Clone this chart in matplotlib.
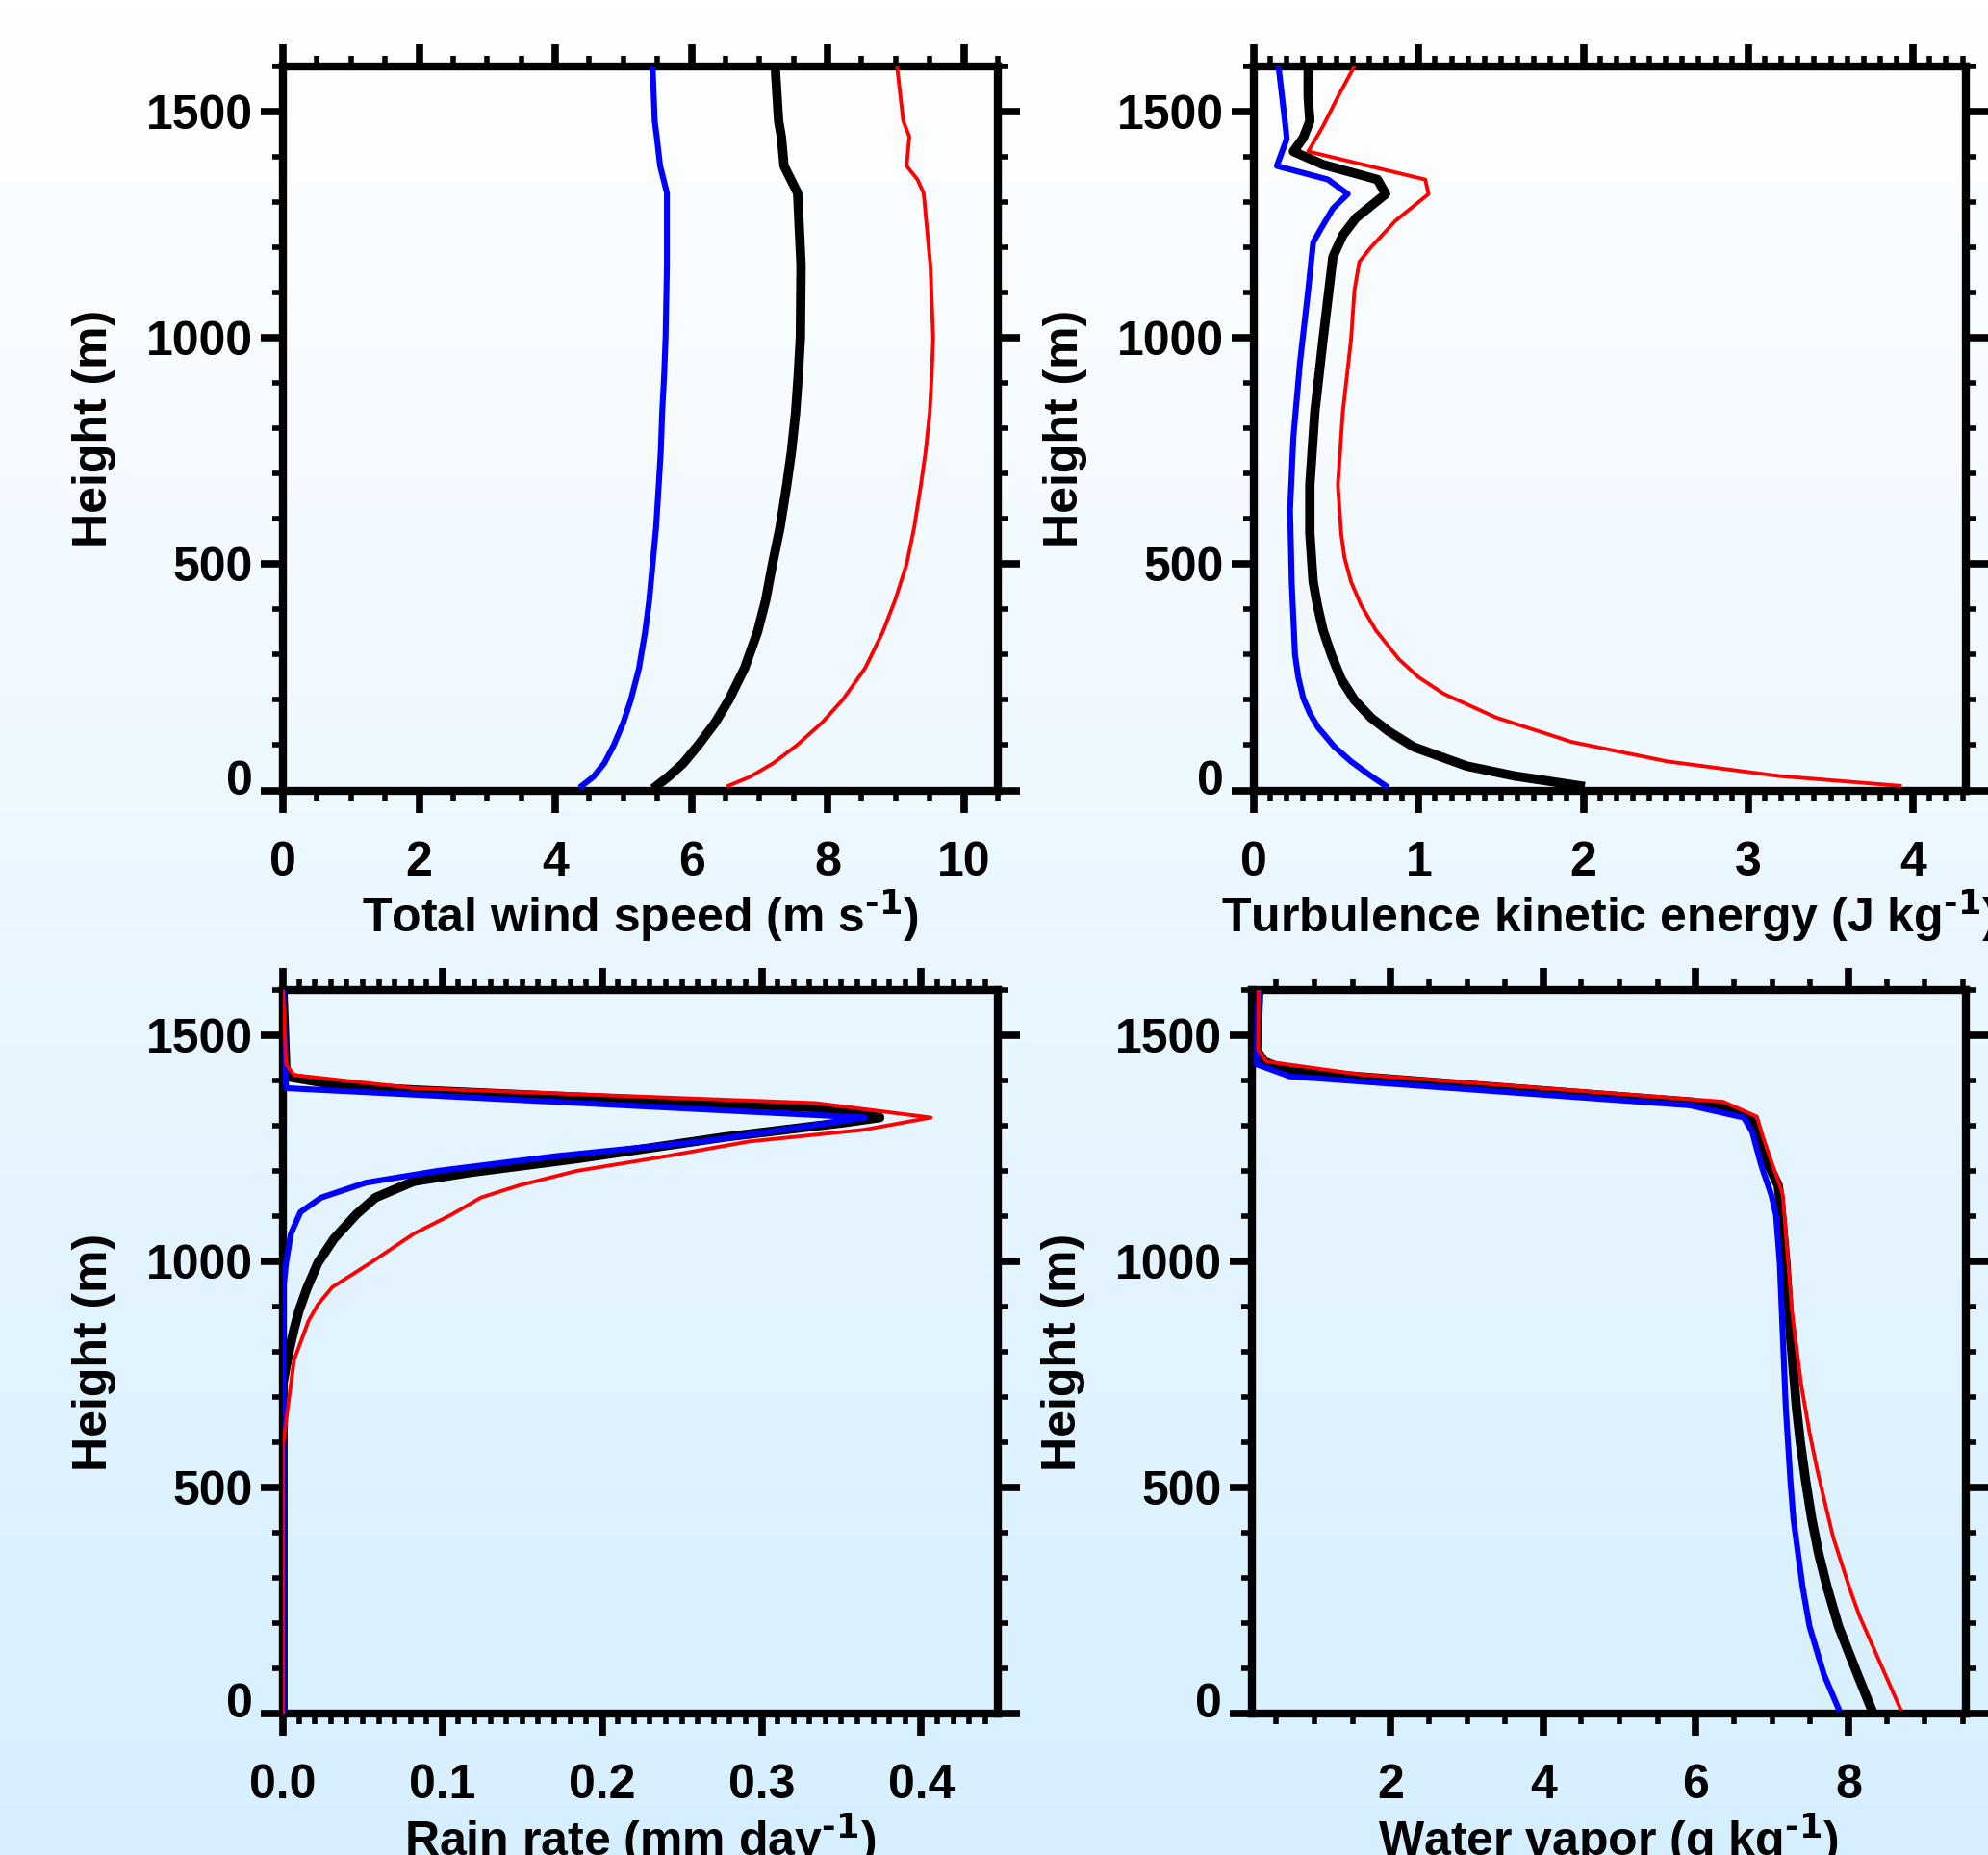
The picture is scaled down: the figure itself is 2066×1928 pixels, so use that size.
import numpy as np
import matplotlib
matplotlib.use('Agg')
import matplotlib.pyplot as plt
from matplotlib.ticker import MultipleLocator, FixedLocator
from matplotlib.colors import LinearSegmentedColormap
from matplotlib.transforms import ScaledTranslation

plt.rcParams['font.family'] = ['Liberation Sans', 'DejaVu Sans']
plt.rcParams['font.weight'] = 'bold'
plt.rcParams['axes.labelweight'] = 'bold'
plt.rcParams['font.size'] = 36
plt.rcParams['mathtext.default'] = 'regular'

# --- total wind speed (m/s)
h_wind = [10, 30, 60, 100, 150, 200, 270, 350, 420, 500, 580, 675, 750, 835, 920, 1000, 1160, 1320, 1350, 1380, 1445, 1480, 1600]
wind_blue = [4.39, 4.56, 4.72, 4.86, 5.00, 5.11, 5.23, 5.32, 5.38, 5.43, 5.48, 5.52, 5.55, 5.57, 5.60, 5.62, 5.64, 5.64, 5.59, 5.54, 5.49, 5.46, 5.43]
wind_black = [5.49, 5.66, 5.88, 6.10, 6.35, 6.55, 6.78, 6.97, 7.09, 7.19, 7.30, 7.40, 7.47, 7.53, 7.57, 7.60, 7.61, 7.56, 7.46, 7.36, 7.32, 7.28, 7.23]
wind_red = [6.54, 6.86, 7.20, 7.55, 7.92, 8.22, 8.55, 8.81, 8.99, 9.16, 9.27, 9.37, 9.44, 9.50, 9.53, 9.55, 9.51, 9.41, 9.32, 9.16, 9.20, 9.11, 9.02]

# --- turbulence kinetic energy (J/kg)
h_tke_blue = [10, 32, 64, 96, 139, 170, 204, 250, 300, 380, 460, 620, 780, 945, 1105, 1211, 1243, 1286, 1318, 1350, 1380, 1440, 1475, 1600]
tke_blue = [0.80, 0.71, 0.59, 0.49, 0.39, 0.34, 0.30, 0.27, 0.25, 0.24, 0.23, 0.22, 0.24, 0.28, 0.33, 0.36, 0.41, 0.48, 0.57, 0.45, 0.14, 0.20, 0.19, 0.15]
h_tke_black = [10, 32, 54, 96, 130, 161, 200, 246, 300, 354, 410, 461, 568, 675, 836, 997, 1179, 1227, 1265, 1318, 1350, 1383, 1412, 1442, 1479, 1533, 1600]
tke_black = [1.98, 1.58, 1.29, 0.97, 0.82, 0.71, 0.61, 0.53, 0.47, 0.42, 0.385, 0.36, 0.34, 0.34, 0.37, 0.42, 0.48, 0.54, 0.62, 0.80, 0.75, 0.42, 0.24, 0.30, 0.34, 0.33, 0.33]
h_tke_red = [10, 32, 64, 107, 161, 214, 250, 290, 354, 410, 461, 515, 568, 675, 836, 997, 1104, 1168, 1200, 1259, 1318, 1350, 1412, 1468, 1533, 1600]
tke_red = [3.92, 3.18, 2.51, 1.93, 1.47, 1.15, 1.00, 0.88, 0.74, 0.65, 0.59, 0.55, 0.53, 0.51, 0.54, 0.59, 0.61, 0.64, 0.71, 0.86, 1.06, 1.04, 0.33, 0.42, 0.51, 0.61]

# --- rain rate (mm/day)
h_rain_blue = [0, 930, 997, 1061, 1109, 1141, 1174, 1200, 1233, 1265, 1297, 1318, 1383, 1600]
rain_blue = [0, 0, 0.002, 0.005, 0.011, 0.024, 0.052, 0.097, 0.172, 0.262, 0.325, 0.365, 0.002, 0]
h_rain_black = [0, 730, 804, 850, 890, 940, 997, 1050, 1104, 1141, 1177, 1197, 1227, 1275, 1307, 1318, 1340, 1379, 1388, 1409, 1600]
rain_black = [0, 0, 0.004, 0.007, 0.010, 0.015, 0.022, 0.032, 0.046, 0.058, 0.082, 0.118, 0.184, 0.277, 0.352, 0.374, 0.334, 0.082, 0.037, 0.002, 0]
h_rain_red = [0, 590, 675, 782, 868, 905, 943, 997, 1061, 1104, 1141, 1168, 1200, 1233, 1265, 1291, 1318, 1350, 1383, 1412, 1436, 1600]
rain_red = [0, 0, 0.003, 0.007, 0.016, 0.022, 0.031, 0.055, 0.082, 0.106, 0.124, 0.148, 0.184, 0.241, 0.292, 0.364, 0.406, 0.334, 0.082, 0.007, 0.002, 0]

# --- water vapor (g/kg)
h_qv_blue = [11, 86, 193, 280, 354, 430, 514, 675, 836, 997, 1104, 1147, 1211, 1286, 1318, 1345, 1409, 1436, 1468, 1600]
qv_blue = [7.87, 7.68, 7.49, 7.40, 7.34, 7.28, 7.24, 7.18, 7.14, 7.10, 7.05, 6.99, 6.86, 6.74, 6.63, 5.92, 0.68, 0.24, 0.24, 0.27]
h_qv_black = [11, 86, 193, 280, 354, 430, 514, 600, 675, 836, 997, 1126, 1168, 1211, 1286, 1320, 1340, 1352, 1420, 1442, 1468, 1600]
qv_black = [8.30, 8.12, 7.87, 7.72, 7.61, 7.52, 7.44, 7.37, 7.32, 7.24, 7.18, 7.11, 7.08, 6.96, 6.80, 6.70, 6.33, 5.95, 0.68, 0.34, 0.24, 0.27]
h_qv_red = [11, 118, 214, 270, 322, 390, 461, 540, 622, 729, 890, 997, 1147, 1168, 1211, 1275, 1320, 1353, 1413, 1442, 1468, 1600]
qv_red = [8.68, 8.40, 8.15, 8.03, 7.93, 7.80, 7.70, 7.59, 7.49, 7.38, 7.26, 7.21, 7.14, 7.10, 7.01, 6.88, 6.80, 6.36, 1.62, 0.37, 0.26, 0.27]

W, H = 2066, 1928
fig = plt.figure(figsize=(W / 100, H / 100), dpi=100)

# gradient background
bg = fig.add_axes([0, 0, 1, 1], zorder=-10)
cmap = LinearSegmentedColormap.from_list('bg', ['#ffffff', '#d6efff'])
bg.imshow(np.linspace(0, 1, 256).reshape(-1, 1), aspect='auto', cmap=cmap,
          extent=[0, 1, 0, 1], origin='upper')
bg.axis('off')


def px_rect(l, r, t, b):
    return [l / W, 1 - b / H, (r - l) / W, (b - t) / H]


def panel(rect, series, xlim, xmajor, xminor, xlabel, fmt=None):
    ax = fig.add_axes(rect)
    ax.set_facecolor('none')
    for x, h, c, lw in series:
        ax.plot(x, h, color=c, lw=lw, zorder=3)
    ax.set_xlim(*xlim)
    ax.set_ylim(0, 1600)
    ax.xaxis.set_major_locator(MultipleLocator(xmajor))
    ax.xaxis.set_minor_locator(MultipleLocator(xminor))
    ax.yaxis.set_major_locator(FixedLocator([0, 500, 1000, 1500]))
    ax.yaxis.set_minor_locator(MultipleLocator(100))
    if fmt:
        ax.xaxis.set_major_formatter(fmt)
    for s in ax.spines.values():
        s.set_linewidth(6)
    ax.tick_params(which='both', direction='out', top=True, right=True)
    ax.tick_params(which='major', length=16.5, width=5.5)
    ax.tick_params(which='minor', length=8, width=4)
    ax.tick_params(axis='x', which='major', pad=21)
    ax.tick_params(axis='y', which='major', pad=6)
    ax.set_xlabel(xlabel, labelpad=2)
    ax.set_ylabel('Height (m)', labelpad=22)
    t0 = ax.yaxis.get_major_ticks()[0].label1
    t0.set_transform(t0.get_transform() + ScaledTranslation(0, 0.14, fig.dpi_scale_trans))
    return ax


BLK, BLU, RED = 7.0, 4.4, 2.8
sup = r'$^{\mathsf{\text{-1}}}$'

panel(px_rect(294, 1037, 69, 821.5),
      [(wind_black, h_wind, 'black', BLK), (wind_blue, h_wind, 'blue', BLU), (wind_red, h_wind, 'red', RED)],
      (0, 10.5), 2, 0.5, 'Total wind speed (m s' + sup + ')')

panel(px_rect(1303, 2043, 69, 821.5),
      [(tke_black, h_tke_black, 'black', BLK), (tke_blue, h_tke_blue, 'blue', BLU), (tke_red, h_tke_red, 'red', RED)],
      (0, 4.32), 1, 0.1, 'Turbulence kinetic energy (J kg' + sup + ')')

panel(px_rect(294, 1037, 1029, 1781),
      [(rain_black, h_rain_black, 'black', BLK), (rain_blue, h_rain_blue, 'blue', BLU), (rain_red, h_rain_red, 'red', RED)],
      (0, 0.448), 0.1, 0.01, 'Rain rate (mm day' + sup + ')', fmt='{x:.1f}')

panel(px_rect(1301, 2043, 1029, 1781),
      [(qv_black, h_qv_black, 'black', BLK), (qv_blue, h_qv_blue, 'blue', BLU), (qv_red, h_qv_red, 'red', RED)],
      (0.18, 9.54), 2, 0.5, 'Water vapor (g kg' + sup + ')')

fig.savefig('out.png', dpi=100)
